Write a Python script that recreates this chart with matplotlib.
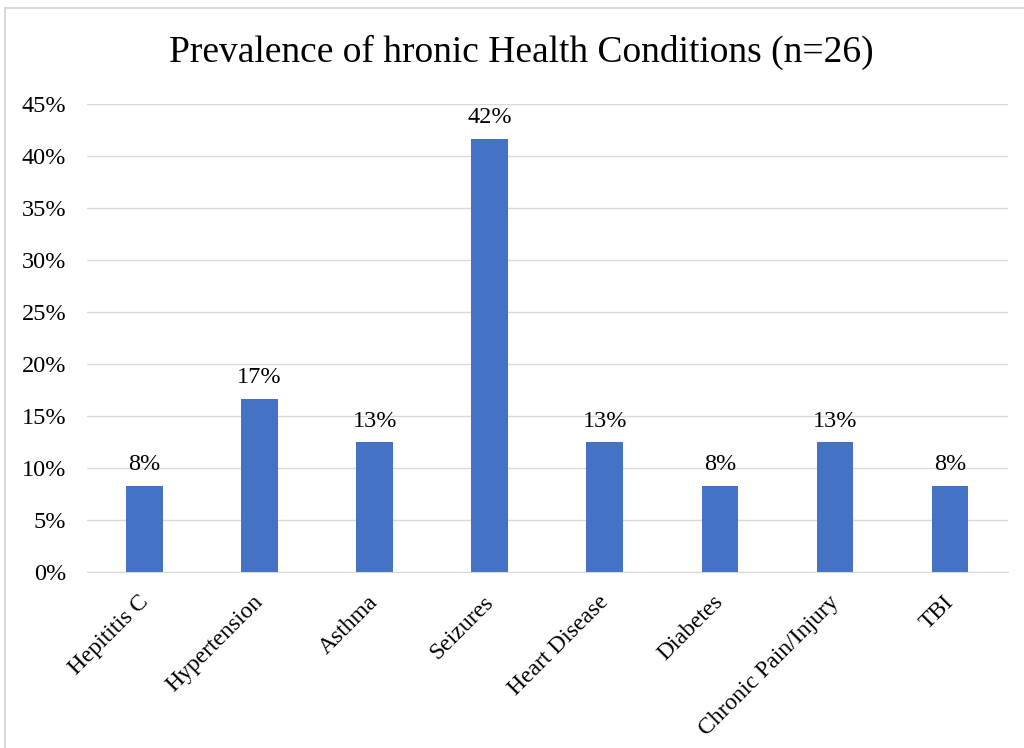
import matplotlib.pyplot as plt
from matplotlib.patches import Rectangle
from matplotlib.ticker import PercentFormatter, MultipleLocator
from matplotlib.transforms import ScaledTranslation

conditions = ["Hepititis C", "Hypertension", "Asthma", "Seizures",
              "Heart Disease", "Diabetes", "Chronic Pain/Injury", "TBI"]
prevalence = [8.33, 16.67, 12.5, 41.67, 12.5, 8.33, 12.5, 8.33]

plt.rcParams['font.family'] = ['Liberation Serif', 'DejaVu Serif']

fig = plt.figure(figsize=(10.24, 7.48), dpi=100)
ax = fig.add_axes([0.085, 0.235, 0.899, 0.626])

x = range(len(conditions))
bars = ax.bar(x, prevalence, width=0.32, color='#4472C4', zorder=3)

for b, v in zip(bars, prevalence):
    # Excel-style rounding (half up)
    ax.text(b.get_x() + b.get_width() / 2, v + 1.0, f"{int(v + 0.5)}%",
            ha='center', va='bottom', fontsize=17.5)

ax.set_xlim(-0.5, len(conditions) - 0.5)
ax.set_ylim(0, 45)
ax.yaxis.set_major_locator(MultipleLocator(5))
ax.yaxis.set_major_formatter(PercentFormatter(decimals=0))
ax.grid(axis='y', color='#d9d9d9', linewidth=1, zorder=0)

ax.set_xticks(list(x))
ax.set_xticklabels(conditions, rotation=45, ha='right', rotation_mode='anchor',
                   fontsize=17)
ax.tick_params(axis='both', length=0)
ax.tick_params(axis='y', labelsize=17.5, pad=15)
ax.tick_params(axis='x', pad=14)

# nudge the slanted category labels a little to the left
shift = ScaledTranslation(-7 / 100, 0, fig.dpi_scale_trans)
for lbl in ax.get_xticklabels():
    lbl.set_transform(lbl.get_transform() + shift)

for side in ['top', 'right', 'left']:
    ax.spines[side].set_visible(False)
ax.spines['bottom'].set_color('#d9d9d9')
ax.spines['bottom'].set_zorder(4)

fig.text(0.509, 0.93, "Prevalence of hronic Health Conditions (n=26)",
         ha='center', va='center', fontsize=27)

# light frame around the chart (runs off the right and bottom edges)
fig.patches.append(Rectangle((5 / 1024, -0.05), 1.1, 1.05 - 8 / 748,
                             transform=fig.transFigure, fill=False,
                             edgecolor='#d9d9d9', linewidth=1.5))

fig.savefig("out.png", dpi=100)
